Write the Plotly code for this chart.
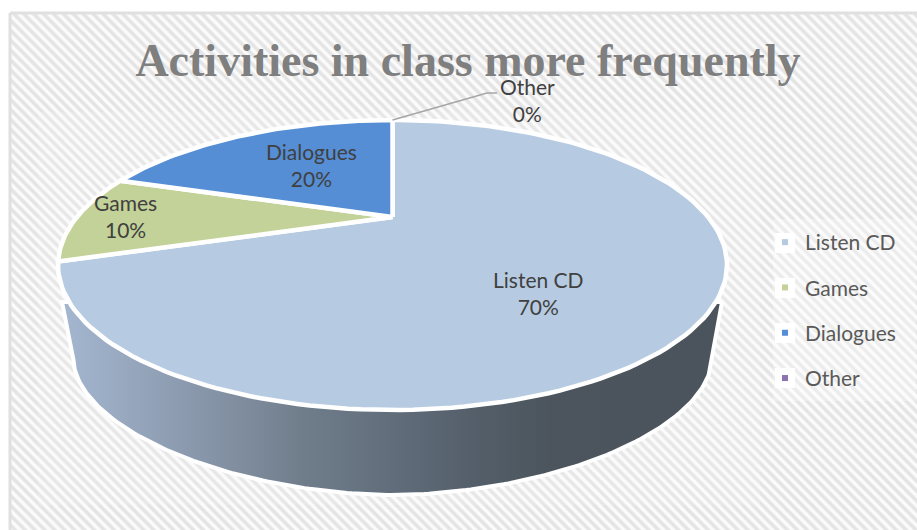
import numpy as np
import plotly.graph_objects as go

title = "Activities in class more frequently"
categories = ["Listen CD", "Games", "Dialogues", "Other"]
values = [70, 10, 20, 0]
colors = ["#b6cbe1", "#c3d298", "#558ed5", "#8e72b0"]
text_color = "#404040"

# projection of the pie disc
CX, CY, RX, RY = 392.5, 265.0, 334.5, 145.0
TILT = 0.331
BOT_CY, BOT_RX, BOT_RY, BOT_N = 360.0, 319.0, 135.0, 1.85


def rim(frac):
    th = np.pi / 2 - 2 * np.pi * np.asarray(frac, dtype=float)
    d = 1 + TILT * np.sin(th)
    sp = (np.sin(th) + TILT) / d
    cp = np.sqrt(1 - TILT ** 2) * np.cos(th) / d
    return CX + RX * cp, CY - RY * sp


apex_x, apex_y = CX, CY - RY * TILT
fig = go.Figure()

# chart background
fig.add_trace(go.Scatter(
    x=[10, 925, 925, 10, 10], y=[13, 13, 540, 540, 13], mode="lines",
    fill="toself", line=dict(color="#e0e0e0", width=3),
    fillcolor="white",
    fillpattern=dict(shape="\\", size=7, solidity=0.5, fgcolor="#e4e4e4", bgcolor="#fbfbfb", fillmode="replace"),
    hoverinfo="skip", showlegend=False))

# faint plot area
fig.add_trace(go.Scatter(
    x=[38, 760, 760, 38, 38], y=[112, 112, 505, 505, 112], mode="lines",
    fill="toself", fillcolor="rgba(255,255,255,0.12)", line=dict(width=0),
    hoverinfo="skip", showlegend=False))

# side wall
t = np.linspace(0, np.pi, 200)
c, s = np.cos(t), np.sin(t)
wx = CX + BOT_RX * np.sign(c) * np.abs(c) ** (2 / BOT_N)
wy = BOT_CY + BOT_RY * np.abs(s) ** (2 / BOT_N)
wx = np.r_[722, wx, 62, 722]
wy = np.r_[302, wy, 302, 302]
fig.add_trace(go.Scatter(
    x=wx, y=wy, mode="lines", fill="toself", line=dict(color="white", width=4),
    fillgradient=dict(type="horizontal", colorscale=[
        [0.0, "#a4b7d0"], [0.27, "#808d9f"], [0.36, "#707e8c"], [0.5, "#616d7b"],
        [0.63, "#535e69"], [0.74, "#4c555d"], [1.0, "#4b545c"]]),
    hoverinfo="skip", showlegend=False))

# top face slices from the values
fr = np.cumsum([0] + values) / sum(values)
for i, cat in enumerate(categories):
    if values[i] == 0:
        continue
    px, py = rim(np.linspace(fr[i], fr[i + 1], 160))
    fig.add_trace(go.Scatter(
        x=np.r_[apex_x, px, apex_x], y=np.r_[apex_y, py, apex_y], mode="lines",
        fill="toself", fillcolor=colors[i], line=dict(color="white", width=4.5),
        hoverinfo="skip", showlegend=False))

# leader line for the zero slice
lx, ly = rim(fr[3])
fig.add_trace(go.Scatter(x=[float(lx), 487, 497], y=[float(ly), 93, 93], mode="lines",
                         line=dict(color="#a6a6a6", width=1.5), hoverinfo="skip", showlegend=False))

# legend entries
for i, cat in enumerate(categories):
    fig.add_trace(go.Scatter(
        x=[None], y=[None], mode="markers", name=cat, legendgroup=cat,
        marker=dict(symbol="square", size=6, color=colors[i])))

label_pos = [(538, 293), (125, 216), (311, 165), (527, 100)]
annotations = [
    dict(x=x, y=y, xref="x", yref="y", text=f"{c}<br>{v}%", showarrow=False,
         font=dict(family="Lato", size=21, color=text_color), xanchor="center", yanchor="middle")
    for (x, y), c, v in zip(label_pos, categories, values)
]

legend_rows = [243, 288, 333, 378]
shapes = [dict(type="rect", xref="x", yref="y", x0=773, x1=916, y0=219, y1=401,
               fillcolor="rgba(255,255,255,0.3)", line_width=0, layer="above")]
shapes += [dict(type="rect", xref="x", yref="y", x0=775, x1=795, y0=r - 10, y1=r + 10,
                fillcolor="white", line_width=0, layer="above") for r in legend_rows]

fig.update_layout(
    width=917, height=530, margin=dict(l=0, r=0, t=0, b=0),
    paper_bgcolor="white", plot_bgcolor="white",
    title=dict(text=f"<b>{title}</b>", x=468 / 917, xanchor="center", xref="paper",
               y=1 - 60 / 530, yanchor="middle", yref="paper",
               font=dict(family="Liberation Serif", size=46, color="#7f7f7f")),
    xaxis=dict(range=[0, 917], visible=False, fixedrange=True),
    yaxis=dict(range=[530, 0], visible=False, fixedrange=True),
    legend=dict(x=765 / 917, y=1 - 222 / 530, xanchor="left", yanchor="top",
                bgcolor="rgba(0,0,0,0)", borderwidth=0, tracegroupgap=15, itemwidth=30,
                font=dict(family="Lato", size=21, color="#595959")),
    annotations=annotations, shapes=shapes, showlegend=True,
)
fig.write_html("out.html", post_script="document.body.style.margin='0';", config=dict(displayModeBar=False))
